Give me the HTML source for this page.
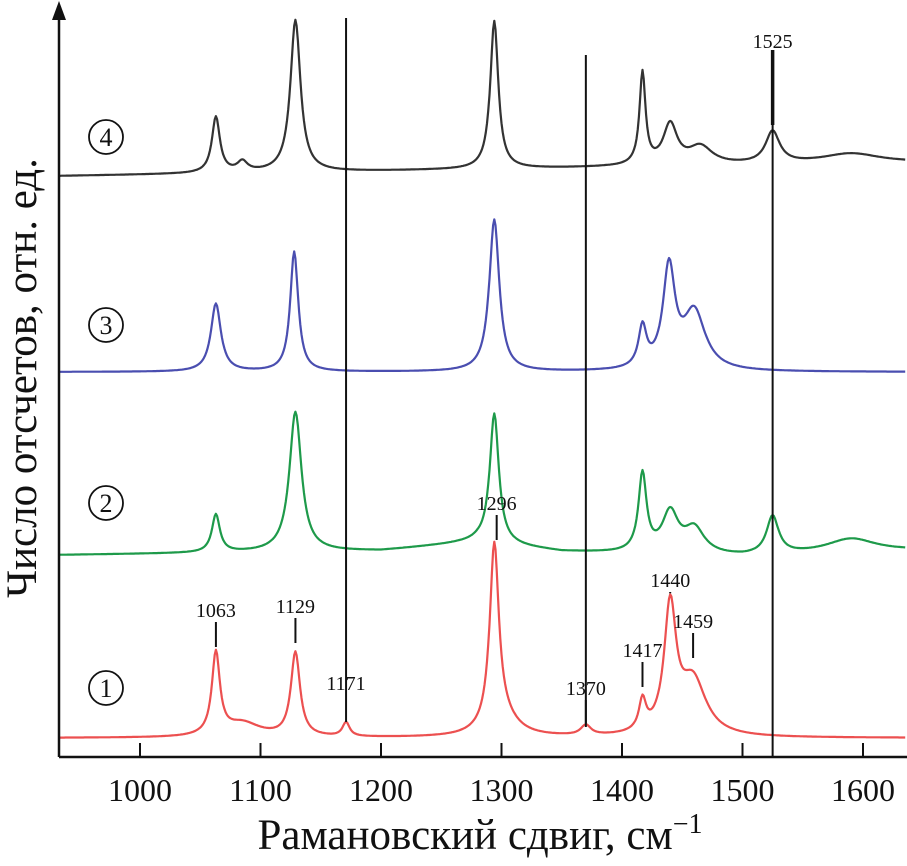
<!DOCTYPE html>
<html><head><meta charset="utf-8"><style>
html,body{margin:0;padding:0;background:#fff;}
svg{display:block;font-family:"Liberation Serif",serif;}
</style></head><body>
<svg id="chart" width="907" height="866" viewBox="0 0 907 866"></svg>
<script>
const xTicks=[1000,1100,1200,1300,1400,1500,1600];
const refLines=[1171,1370,1525];
const refTops=[18,55,50];
const seriesNames=["1","2","3","4"];
const seriesColors=["#ec5050","#1e9a4a","#4a4eb0","#333333"];
const redBaseX=[933,1635];const redBaseY=[19,19];
const greenBaseX=[933,1200,1280,1350,1500,1635];const greenBaseY=[202,206,215,205,200,206];
const blueBaseX=[933,1635];const blueBaseY=[385,385];
const blackBaseX=[933,1635];const blackBaseY=[581,594];
const redPos=[1063,1129,1171,1294,1300,1370,1417,1440,1459,1085];
const redH=[82,84,14,180,18,10,30,125,55,14];
const redW=[4,4.5,3.5,4.5,15,5,3.5,6,13,18];
const greenPos=[1063,1129,1294,1417,1440,1460,1525,1590];
const greenH=[38,140,130,78,40,25,38,14];
const greenW=[4,6,4.5,4,8,10,6,25];
const bluePos=[1063,1128,1294,1417,1439,1460];
const blueH=[68,120,152,40,100,58];
const blueW=[5,4,5,4,6,11];
const blackPos=[1063,1085,1129,1294,1417,1440,1465,1525,1590];
const blackH=[56,10,152,148,92,40,18,32,10];
const blackW=[4,5,5,4,3,7,12,7,30];
const peakLabels=[1063,1129,1171,1296,1370,1417,1440,1459];
const peakLabelY=[617,613,690,510,695,657,587,628];
const circleY=[688,503,325,137];

const NS="http://www.w3.org/2000/svg";
const svg=document.getElementById('chart');
const xs=v=>140+(v-1000)*1.205;
const ys=v=>757-v;
function mk(t,a){const e=document.createElementNS(NS,t);for(const k in a)e.setAttribute(k,a[k]);svg.appendChild(e);return e;}
function base(bx,by,v){for(let i=0;i<bx.length-1;i++){if(v<=bx[i+1]){const t=(v-bx[i])/(bx[i+1]-bx[i]);return by[i]+t*(by[i+1]-by[i]);}}return by[by.length-1];}
function spec(bx,by,P,H,W,v){let s=base(bx,by,v);for(let i=0;i<P.length;i++){const d=(v-P[i])/W[i];s+=H[i]/(1+d*d);}return s;}
const sets=[[redBaseX,redBaseY,redPos,redH,redW],[greenBaseX,greenBaseY,greenPos,greenH,greenW],[blueBaseX,blueBaseY,bluePos,blueH,blueW],[blackBaseX,blackBaseY,blackPos,blackH,blackW]];
const snames=['spectrum-1-red','spectrum-2-green','spectrum-3-blue','spectrum-4-black'];
sets.forEach((s,i)=>{let d='';for(let v=933;v<=1635;v+=1){const y=spec(s[0],s[1],s[2],s[3],s[4],v);d+=(v===933?'M':'L')+xs(v).toFixed(1)+','+ys(y).toFixed(1);}
const p=mk('path',{d:d,fill:'none',stroke:seriesColors[i],'stroke-width':2.2,'stroke-linejoin':'round'});

});
refLines.forEach((v,i)=>{const l=mk('line',{x1:xs(v),x2:xs(v),y1:refTops[i],y2:v===1525?757:(v===1171?722:727),stroke:'#111','stroke-width':2});

});
const t15=mk('text',{x:xs(1525),y:48,'text-anchor':'middle','font-size':20,fill:'#111'});t15.textContent='1525';


mk('line',{x1:xs(1525),x2:xs(1525),y1:50,y2:125,stroke:'#111','stroke-width':3.5});
peakLabels.forEach((v,i)=>{const yl=peakLabelY[i];const pk=ys(spec(redBaseX,redBaseY,redPos,redH,redW,v));
if(v!==1171){const l=mk('line',{x1:xs(v),x2:xs(v),y1:yl+5,y2:Math.min(pk-1,yl+30),stroke:'#111','stroke-width':2});

}
const t=mk('text',{x:xs(v),y:yl,'text-anchor':'middle','font-size':20,fill:'#111'});t.textContent=v;

});
const ax=mk('line',{x1:59,x2:907,y1:757,y2:757,stroke:'#111','stroke-width':2.5});


const ay=mk('line',{x1:59,x2:59,y1:12,y2:757,stroke:'#111','stroke-width':2.5});


const ar=mk('path',{d:'M59,1 L52,20 L66,20 Z',fill:'#111'});


xTicks.forEach(v=>{const l=mk('line',{x1:xs(v),x2:xs(v),y1:743,y2:757,stroke:'#111','stroke-width':2});


const t=mk('text',{x:xs(v),y:801,'text-anchor':'middle','font-size':32,fill:'#111'});t.textContent=v;

});
seriesNames.forEach((n,i)=>{const c=mk('circle',{cx:106,cy:circleY[i],r:17,fill:'none',stroke:'#111','stroke-width':1.8});


const t=mk('text',{x:106,y:circleY[i]+9,'text-anchor':'middle','font-size':26,fill:'#111'});t.textContent=n;

});
const xt=mk('text',{x:480,y:849,'text-anchor':'middle','font-size':43,fill:'#111'});
xt.innerHTML='Рамановский сдвиг, см<tspan dy="-16" font-size="28">−1</tspan>';


const yt=mk('text',{x:0,y:0,'text-anchor':'middle','font-size':43,fill:'#111',transform:'translate(36,378) rotate(-90)'});
yt.textContent='Число отсчетов, отн. ед.';


</script>
</body></html>
